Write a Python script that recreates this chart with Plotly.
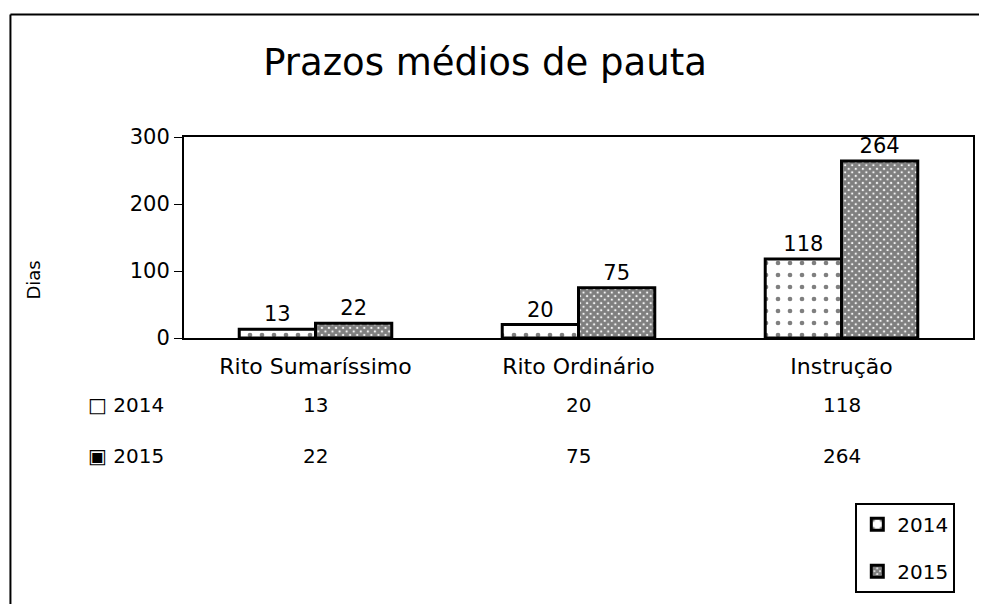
import plotly.graph_objects as go

categories = ["Rito Sumaríssimo", "Rito Ordinário", "Instrução"]
series_names = ["2014", "2015"]
values_2014 = [13, 20, 118]
values_2015 = [22, 75, 264]
y_ticks = [0, 100, 200, 300]

# page body has an 8px margin, so the figure is made 8px smaller and all
# reference pixel positions are shifted by OFF
OFF = 8
W, H = 987 - OFF, 604 - OFF
PLOT_L, PLOT_R, PLOT_T, PLOT_B = 184, 975, 137, 342
L, R, T, B = PLOT_L - OFF, 987 - PLOT_R, PLOT_T - OFF, 604 - PLOT_B
pw = PLOT_R - PLOT_L
ph = PLOT_B - PLOT_T

def px_x(p):
    return (p - PLOT_L) / pw

def px_y(p):
    return (PLOT_B - p) / ph

FONT = "DejaVu Sans"

fig = go.Figure()
fig.add_trace(go.Bar(
    x=categories, y=values_2014, name=series_names[0], legendgroup="a",
    text=[str(v) for v in values_2014], textposition="outside",
    textfont=dict(size=21, color="black", family=FONT),
    marker=dict(color="white", line=dict(color="black", width=3),
                pattern=dict(shape=".", fgcolor="black", bgcolor="white", size=12, solidity=0.12)),
    cliponaxis=False,
))
fig.add_trace(go.Bar(
    x=categories, y=values_2015, name=series_names[1], legendgroup="b",
    text=[str(v) for v in values_2015], textposition="outside",
    textfont=dict(size=21, color="black", family=FONT),
    marker=dict(color="white", line=dict(color="black", width=3),
                pattern=dict(shape="x", fgcolor="black", bgcolor="white", size=5, solidity=0.85)),
    cliponaxis=False,
))

annotations = []
# data table below the chart
rows = [(series_names[0], values_2014, "□ ", 410), (series_names[1], values_2015, "▣ ", 462)]
for name, vals, icon, py in rows:
    annotations.append(dict(x=px_x(86), y=px_y(py), xref="paper", yref="paper",
                            text=icon + name, showarrow=False, xanchor="left", yanchor="middle",
                            font=dict(size=20, color="black", family=FONT)))
    for c, v in zip(categories, vals):
        annotations.append(dict(x=c, y=px_y(py), xref="x", yref="paper", text=str(v),
                                showarrow=False, xanchor="center", yanchor="middle",
                                font=dict(size=20, color="black", family=FONT)))
# y axis title
annotations.append(dict(x=px_x(33), y=px_y(283), xref="paper", yref="paper", text="Dias",
                        textangle=-90, showarrow=False, xanchor="center", yanchor="middle",
                        font=dict(size=18, color="black", family=FONT)))

shapes = [
    dict(type="line", xref="paper", yref="paper", x0=px_x(10), x1=px_x(995), y0=px_y(12), y1=px_y(12),
         line=dict(color="black", width=2)),
    dict(type="line", xref="paper", yref="paper", x0=px_x(10), x1=px_x(10), y0=px_y(12), y1=px_y(620),
         line=dict(color="black", width=2)),
]

fig.update_layout(
    width=W, height=H,
    margin=dict(l=L, r=R, t=T, b=B),
    paper_bgcolor="white", plot_bgcolor="white",
    title=dict(text="Prazos médios de pauta", xref="container", x=(485 - OFF) / W, xanchor="center",
               yref="container", y=1 - (62 - OFF) / H, yanchor="middle",
               font=dict(size=37, color="black", family=FONT)),
    font=dict(family=FONT, color="black"),
    barmode="group", bargap=0.42, bargroupgap=0,
    showlegend=True,
    legend=dict(x=px_x(857), y=px_y(510), xanchor="left", yanchor="top",
                bordercolor="black", borderwidth=2, bgcolor="white",
                font=dict(size=20, color="black", family=FONT), itemwidth=30,
                tracegroupgap=18),
    annotations=annotations,
    shapes=shapes,
    xaxis=dict(showline=True, linecolor="black", linewidth=2, mirror=True, ticks="",
               ticklabelstandoff=8,
               tickfont=dict(size=22, color="black", family=FONT), showgrid=False),
    yaxis=dict(range=[0, 300], tickvals=y_ticks, showline=True, linecolor="black", linewidth=2,
               mirror=True, ticks="outside", ticklen=8, tickcolor="black", showgrid=False, zeroline=False,
               tickfont=dict(size=21, color="black", family=FONT)),
)

fig.write_html("out.html")
